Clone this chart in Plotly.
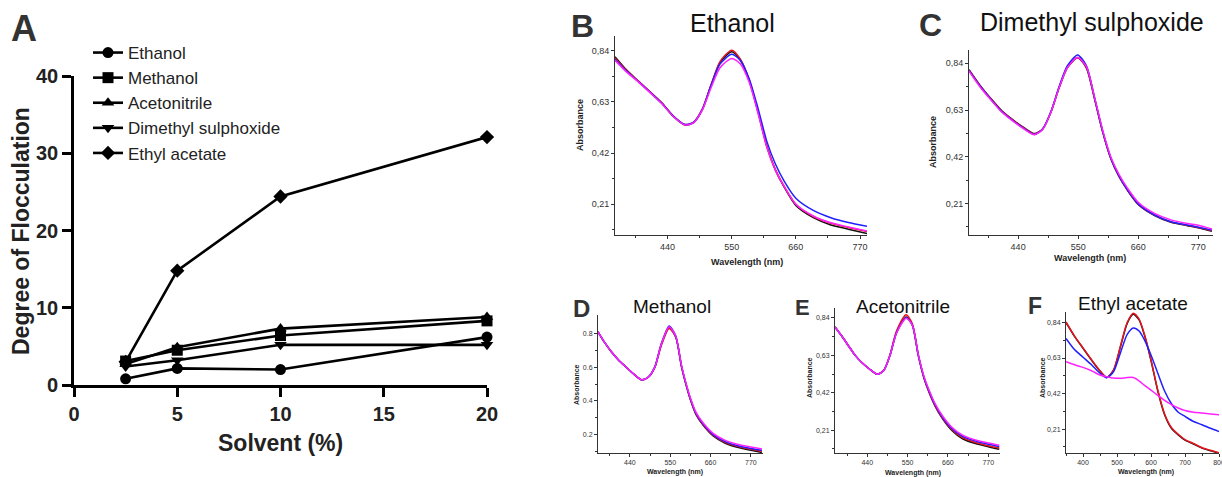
import plotly.graph_objects as go

W, H = 1222, 477
FONT = "Liberation Sans, Arial, sans-serif"

# ---------------- Panel A data ----------------
solvent_pct = [2.5, 5, 10, 20]
ethanol_df = [0.8, 2.15, 2.0, 6.2]
methanol_df = [3.1, 4.5, 6.4, 8.3]
acetonitrile_df = [2.7, 4.9, 7.3, 8.8]
dmso_df = [2.4, 3.2, 5.2, 5.2]
ethyl_acetate_df = [3.0, 14.8, 24.4, 32.1]
series_names = ["Ethanol", "Methanol", "Acetonitrile", "Dimethyl sulphoxide", "Ethyl acetate"]
series_symbols = ["circle", "square", "triangle-up", "triangle-down", "diamond"]

# ---------------- Panel B (Ethanol) spectra ----------------
wl_b = [350, 370, 390, 410, 430, 450, 470, 485, 500, 515, 530, 550, 565, 580, 595, 610, 625, 640, 660, 690, 720, 750, 782]
b_black = [0.815, 0.760, 0.715, 0.670, 0.625, 0.570, 0.535, 0.545, 0.600, 0.700, 0.790, 0.835, 0.800, 0.720, 0.590, 0.450, 0.350, 0.280, 0.205, 0.155, 0.125, 0.108, 0.090]
b_red = [0.810, 0.758, 0.715, 0.672, 0.627, 0.572, 0.537, 0.547, 0.602, 0.702, 0.795, 0.842, 0.805, 0.720, 0.590, 0.450, 0.352, 0.283, 0.210, 0.160, 0.132, 0.115, 0.098]
b_blue = [0.805, 0.755, 0.713, 0.670, 0.625, 0.572, 0.537, 0.547, 0.600, 0.700, 0.785, 0.825, 0.800, 0.725, 0.605, 0.470, 0.375, 0.305, 0.235, 0.185, 0.155, 0.135, 0.120]
b_magenta = [0.800, 0.752, 0.712, 0.668, 0.623, 0.570, 0.535, 0.545, 0.598, 0.690, 0.770, 0.808, 0.785, 0.710, 0.585, 0.445, 0.350, 0.283, 0.210, 0.162, 0.134, 0.117, 0.100]

# ---------------- Panel C (DMSO) spectra ----------------
wl_c = [350, 370, 390, 410, 430, 450, 470, 485, 500, 515, 530, 549, 565, 580, 595, 610, 625, 640, 660, 690, 720, 750, 770, 795]
c_black = [0.812, 0.742, 0.682, 0.627, 0.587, 0.552, 0.524, 0.545, 0.620, 0.730, 0.820, 0.865, 0.820, 0.680, 0.530, 0.410, 0.330, 0.270, 0.205, 0.155, 0.125, 0.110, 0.100, 0.085]
c_red = [0.810, 0.740, 0.680, 0.625, 0.585, 0.550, 0.522, 0.545, 0.620, 0.730, 0.820, 0.866, 0.822, 0.682, 0.532, 0.412, 0.332, 0.272, 0.207, 0.157, 0.127, 0.112, 0.102, 0.088]
c_blue = [0.808, 0.738, 0.678, 0.623, 0.583, 0.548, 0.520, 0.545, 0.622, 0.735, 0.828, 0.878, 0.830, 0.686, 0.534, 0.413, 0.333, 0.273, 0.208, 0.158, 0.128, 0.113, 0.103, 0.090]
c_magenta = [0.805, 0.735, 0.676, 0.621, 0.581, 0.546, 0.519, 0.543, 0.620, 0.730, 0.820, 0.866, 0.826, 0.688, 0.538, 0.418, 0.340, 0.280, 0.215, 0.165, 0.136, 0.120, 0.112, 0.095]

# ---------------- Panel D (Methanol) spectra ----------------
wl_d = [353, 370, 390, 410, 430, 450, 472, 490, 508, 525, 547, 565, 581, 595, 606, 620, 640, 668, 700, 730, 770, 800]
d_black = [0.810, 0.750, 0.690, 0.640, 0.600, 0.560, 0.525, 0.540, 0.600, 0.730, 0.835, 0.780, 0.600, 0.480, 0.400, 0.320, 0.255, 0.190, 0.148, 0.126, 0.106, 0.093]
d_red = [0.810, 0.750, 0.690, 0.640, 0.600, 0.560, 0.525, 0.540, 0.598, 0.725, 0.830, 0.780, 0.602, 0.482, 0.402, 0.323, 0.258, 0.194, 0.153, 0.131, 0.112, 0.100]
d_blue = [0.810, 0.750, 0.690, 0.640, 0.600, 0.560, 0.525, 0.541, 0.602, 0.735, 0.845, 0.785, 0.605, 0.486, 0.406, 0.327, 0.262, 0.198, 0.158, 0.136, 0.117, 0.106]
d_magenta = [0.810, 0.750, 0.690, 0.640, 0.600, 0.560, 0.525, 0.541, 0.600, 0.732, 0.840, 0.785, 0.608, 0.490, 0.411, 0.333, 0.268, 0.205, 0.165, 0.143, 0.125, 0.114]

# ---------------- Panel E (Acetonitrile) spectra ----------------
wl_e = [352, 370, 390, 407, 425, 445, 467, 485, 502, 520, 546, 563, 579, 595, 609, 625, 645, 670, 700, 735, 770, 800]
e_black = [0.790, 0.740, 0.680, 0.630, 0.590, 0.555, 0.524, 0.545, 0.630, 0.760, 0.845, 0.800, 0.630, 0.500, 0.420, 0.345, 0.275, 0.210, 0.162, 0.135, 0.117, 0.103]
e_red = [0.790, 0.740, 0.680, 0.630, 0.590, 0.555, 0.524, 0.546, 0.634, 0.768, 0.858, 0.808, 0.634, 0.502, 0.422, 0.348, 0.279, 0.215, 0.168, 0.141, 0.123, 0.110]
e_blue = [0.790, 0.740, 0.680, 0.630, 0.590, 0.555, 0.524, 0.545, 0.630, 0.758, 0.842, 0.800, 0.634, 0.506, 0.428, 0.353, 0.284, 0.221, 0.175, 0.149, 0.131, 0.119]
e_magenta = [0.790, 0.740, 0.680, 0.630, 0.590, 0.555, 0.524, 0.545, 0.630, 0.756, 0.838, 0.800, 0.636, 0.510, 0.433, 0.359, 0.291, 0.228, 0.182, 0.155, 0.138, 0.126]

# ---------------- Panel F (Ethyl acetate) spectra ----------------
wl_f = [350, 375, 400, 425, 450, 470, 490, 510, 530, 548, 565, 580, 600, 620, 640, 660, 680, 700, 725, 750, 775, 800]
f_black = [0.840, 0.758, 0.688, 0.618, 0.553, 0.515, 0.558, 0.695, 0.835, 0.888, 0.855, 0.770, 0.615, 0.435, 0.295, 0.215, 0.176, 0.145, 0.122, 0.098, 0.082, 0.068]
f_red = [0.843, 0.760, 0.690, 0.620, 0.555, 0.515, 0.560, 0.700, 0.840, 0.895, 0.860, 0.775, 0.620, 0.440, 0.300, 0.220, 0.180, 0.148, 0.125, 0.100, 0.085, 0.070]
f_blue = [0.746, 0.680, 0.635, 0.590, 0.540, 0.514, 0.550, 0.660, 0.770, 0.808, 0.790, 0.740, 0.648, 0.540, 0.435, 0.360, 0.310, 0.285, 0.255, 0.236, 0.215, 0.196]
f_magenta = [0.608, 0.590, 0.575, 0.555, 0.530, 0.520, 0.512, 0.510, 0.515, 0.515, 0.495, 0.470, 0.440, 0.410, 0.380, 0.355, 0.335, 0.320, 0.310, 0.305, 0.300, 0.295]

spec_colors = ["#111111", "#e8141e", "#1f1fff", "#ff22ff"]

fig = go.Figure()

# ---- Panel A traces ----
a_values = [ethanol_df, methanol_df, acetonitrile_df, dmso_df, ethyl_acetate_df]
for name, sym, vals in zip(series_names, series_symbols, a_values):
    fig.add_trace(go.Scatter(
        x=solvent_pct, y=vals, name=name, mode="lines+markers",
        line=dict(color="black", width=2.6),
        marker=dict(symbol=sym, size=11, color="black"),
        cliponaxis=False, xaxis="x", yaxis="y"))

# ---- spectra traces ----
panels = [
    (wl_b, [b_black, b_red, b_blue, b_magenta], "x2", "y2"),
    (wl_c, [c_black, c_red, c_blue, c_magenta], "x3", "y3"),
    (wl_d, [d_black, d_red, d_blue, d_magenta], "x4", "y4"),
    (wl_e, [e_black, e_red, e_blue, e_magenta], "x5", "y5"),
    (wl_f, [f_black, f_red, f_blue, f_magenta], "x6", "y6"),
]
for wl, curves, xa, ya in panels:
    for col, vals in zip(spec_colors, curves):
        fig.add_trace(go.Scatter(
            x=wl, y=vals, mode="lines", showlegend=False,
            line=dict(color=col, width=1.5, shape="spline", smoothing=0.7),
            xaxis=xa, yaxis=ya))


def xd(a, b):
    return [a / W, b / W]


def yd(top, bottom):
    return [1 - bottom / H, 1 - top / H]


def spec_x(domain, anchor, rng, dtick, tick0, mdtick, fs):
    return dict(domain=domain, anchor=anchor, range=rng, tickmode="linear", dtick=dtick, tick0=tick0,
                showline=True, linecolor="#333", linewidth=1, ticks="outside", ticklen=3, tickwidth=1,
                tickcolor="#333", showgrid=False, zeroline=False, automargin=False,
                ticklabeloverflow="allow",
                tickfont=dict(family=FONT, size=fs, color="#333"),
                minor=dict(ticks="outside", ticklen=2, tickwidth=1, tickcolor="#333", dtick=mdtick, tick0=tick0))


def spec_y(domain, anchor, rng, tv, tt, mtv, fs):
    return dict(domain=domain, anchor=anchor, range=rng, tickmode="array", tickvals=tv, ticktext=tt,
                showline=True, linecolor="#333", linewidth=1, ticks="outside", ticklen=3, tickwidth=1,
                tickcolor="#333", showgrid=False, zeroline=False, automargin=False,
                tickfont=dict(family=FONT, size=fs, color="#333"),
                minor=dict(ticks="outside", ticklen=2, tickwidth=1, tickcolor="#333", tickmode="array", tickvals=mtv))


abs_ticks = [0.21, 0.42, 0.63, 0.84]
abs_text = ["0,21", "0,42", "0,63", "0,84"]
abs_minor = [0.105, 0.315, 0.525, 0.735]

layout = dict(
    width=W, height=H, margin=dict(l=0, r=0, t=0, b=0, pad=0, autoexpand=False),
    paper_bgcolor="white", plot_bgcolor="white",
    font=dict(family=FONT, color="#222"),
    showlegend=True,
    legend=dict(x=88 / W, y=1 - 35 / H, xanchor="left", yanchor="top",
                font=dict(family=FONT, size=17, color="#222"), bgcolor="rgba(0,0,0,0)",
                tracegroupgap=0, itemwidth=30),
    xaxis=dict(domain=xd(74, 487), anchor="y", range=[0, 20], tickmode="array", tickvals=[0, 5, 10, 15, 20],
               showline=True, linecolor="black", linewidth=2.6, ticks="outside", ticklen=9, tickwidth=2.6,
               tickcolor="black", showgrid=False, zeroline=False, automargin=False,
               tickfont=dict(family=FONT, size=20, color="#222", weight="bold")),
    yaxis=dict(domain=yd(76, 385), anchor="x", range=[0, 40], tickmode="array", tickvals=[0, 10, 20, 30, 40],
               showline=True, linecolor="black", linewidth=2.6, ticks="outside", ticklen=9, tickwidth=2.6,
               tickcolor="black", showgrid=False, zeroline=False, automargin=False,
               tickfont=dict(family=FONT, size=20, color="#222", weight="bold")),
    xaxis2=spec_x(xd(615, 867), "y2", [350, 782], 110, 440, 55, 9),
    yaxis2=spec_y(yd(36, 235), "x2", [0.084, 0.90], abs_ticks, abs_text, abs_minor, 9),
    xaxis3=spec_x(xd(969, 1213), "y3", [350, 797], 110, 440, 55, 9),
    yaxis3=spec_y(yd(50, 235), "x3", [0.068, 0.90], abs_ticks, abs_text, abs_minor, 9),
    xaxis4=spec_x(xd(598, 763), "y4", [353, 803], 110, 440, 55, 7),
    yaxis4=spec_y(yd(315, 453), "x4", [0.09, 0.91], [0.2, 0.4, 0.6, 0.8], ["0.2", "0.4", "0.6", "0.8"],
                  [0.1, 0.3, 0.5, 0.7], 7),
    xaxis5=spec_x(xd(835, 1000), "y5", [352, 802], 110, 440, 55, 7),
    yaxis5=spec_y(yd(308, 453), "x5", [0.082, 0.896], abs_ticks, abs_text, abs_minor, 7),
    xaxis6=spec_x(xd(1066, 1219), "y6", [350, 800], 100, 400, 50, 7),
    yaxis6=spec_y(yd(312, 453), "x6", [0.069, 0.902], abs_ticks, abs_text, abs_minor, 7),
)
fig.update_layout(**layout)


def ann(text, x, y, size, bold=False, color="#111", angle=0):
    fig.add_annotation(text=text, x=x / W, y=1 - y / H, xref="paper", yref="paper",
                       xanchor="center", yanchor="middle", showarrow=False, textangle=angle,
                       font=dict(family=FONT, size=size, color=color, weight="bold" if bold else "normal"))


# panel letters
ann("A", 24, 28, 36, True, "#333")
ann("B", 582, 26, 32, True, "#333")
ann("C", 930, 25, 32, True, "#333")
ann("D", 581, 308, 24, True, "#333")
ann("E", 803, 307, 22, True, "#333")
ann("F", 1035, 306, 23, True, "#333")

# panel titles
ann("Ethanol", 732, 23, 25)
ann("Dimethyl sulphoxide", 1092, 22, 25)
ann("Methanol", 672, 306, 19)
ann("Acetonitrile", 903, 306, 19)
ann("Ethyl acetate", 1133, 303, 19)

# panel A axis titles
ann("Degree of Flocculation", 21, 231, 23, True, "#222", -90)
ann("Solvent (%)", 280, 443, 23, True, "#222")

# spectra axis titles
ann("Absorbance", 580, 125, 9, True, "#222", -90)
ann("Wavelength (nm)", 747, 262, 9, True, "#222")
ann("Absorbance", 933, 142, 9, True, "#222", -90)
ann("Wavelength (nm)", 1090, 258, 9, True, "#222")
ann("Absorbance", 576, 385, 7, True, "#222", -90)
ann("Wavelength (nm)", 675, 472, 7, True, "#222")
ann("Absorbance", 809, 378, 7, True, "#222", -90)
ann("Wavelength (nm)", 913, 473, 7, True, "#222")
ann("Absorbance", 1042, 378, 7, True, "#222", -90)
ann("Wavelength (nm)", 1146, 472, 7, True, "#222")

fig.write_html("out.html")
